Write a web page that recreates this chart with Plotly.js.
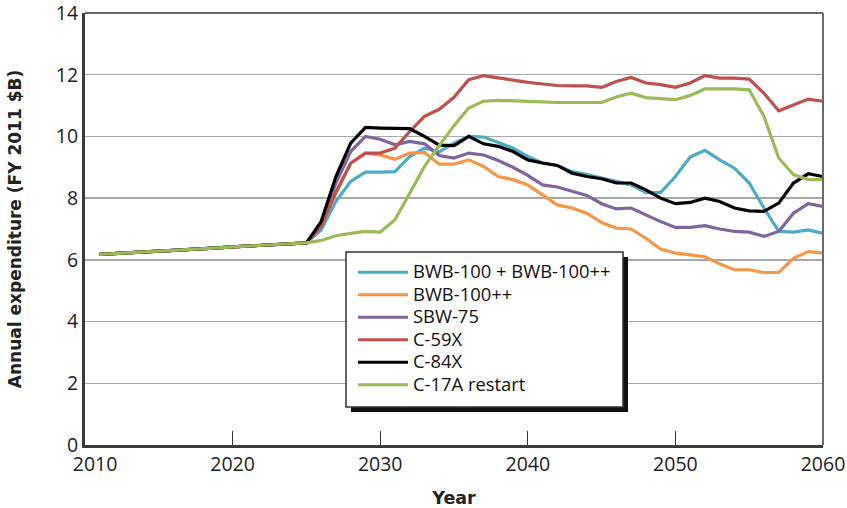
<!DOCTYPE html>
<html>
<head>
<meta charset="utf-8">
<script src="https://cdn.plot.ly/plotly-3.0.1.min.js"></script>
<style>html,body{margin:0;padding:0;background:#fff;}#chart{width:847px;height:508px;}</style>
</head>
<body>
<div id="chart"></div>
<script>
const years = [2011,2012,2013,2014,2015,2016,2017,2018,2019,2020,2021,2022,2023,2024,2025,
  2026,2027,2028,2029,2030,2031,2032,2033,2034,2035,2036,2037,2038,2039,2040,
  2041,2042,2043,2044,2045,2046,2047,2048,2049,2050,2051,2052,2053,2054,2055,
  2056,2057,2058,2059,2060];

const bwb100Both = [6.18,6.2,6.22,6.25,6.28,6.31,6.33,6.36,6.39,6.42,6.45,6.48,6.5,6.52,6.55,
  6.97,7.9,8.54,8.84,8.84,8.86,9.35,9.62,9.5,9.78,10.0,9.98,9.8,9.62,9.35,
  9.14,9.06,8.86,8.76,8.65,8.54,8.43,8.18,8.18,8.7,9.33,9.55,9.24,8.97,8.49,
  7.68,6.92,6.9,6.97,6.86];

const bwb100pp = [6.18,6.2,6.22,6.25,6.28,6.31,6.33,6.36,6.39,6.42,6.45,6.48,6.5,6.52,6.55,
  7.08,8.16,9.13,9.46,9.4,9.26,9.46,9.48,9.1,9.1,9.24,9.03,8.7,8.6,8.43,
  8.1,7.78,7.68,7.51,7.21,7.03,7.0,6.7,6.35,6.22,6.16,6.1,5.87,5.68,5.68,
  5.59,5.59,6.05,6.27,6.22];

const sbw75 = [6.18,6.2,6.22,6.25,6.28,6.31,6.33,6.36,6.39,6.42,6.45,6.48,6.5,6.52,6.55,
  7.1,8.5,9.51,10.0,9.91,9.73,9.84,9.76,9.38,9.3,9.46,9.4,9.22,9.0,8.74,
  8.43,8.36,8.22,8.09,7.82,7.65,7.68,7.46,7.24,7.05,7.05,7.11,7.0,6.92,6.9,
  6.76,6.92,7.51,7.82,7.73];

const c59x = [6.18,6.2,6.22,6.25,6.28,6.31,6.33,6.36,6.39,6.42,6.45,6.48,6.5,6.52,6.55,
  7.08,8.2,9.13,9.46,9.46,9.62,10.16,10.65,10.88,11.27,11.84,11.97,11.9,11.82,11.75,
  11.7,11.65,11.64,11.64,11.59,11.78,11.91,11.73,11.68,11.59,11.73,11.97,11.89,11.89,11.86,
  11.4,10.83,11.03,11.21,11.14];

const c84x = [6.18,6.2,6.22,6.25,6.28,6.31,6.33,6.36,6.39,6.42,6.45,6.48,6.5,6.52,6.55,
  7.24,8.7,9.78,10.29,10.27,10.25,10.25,10.0,9.72,9.7,10.0,9.76,9.68,9.51,9.24,
  9.14,9.06,8.81,8.7,8.63,8.49,8.49,8.27,8.0,7.82,7.86,8.0,7.89,7.68,7.59,
  7.57,7.84,8.49,8.79,8.7];

const c17a = [6.18,6.2,6.22,6.25,6.28,6.31,6.33,6.36,6.39,6.42,6.45,6.48,6.5,6.52,6.55,
  6.63,6.78,6.86,6.92,6.9,7.3,8.16,9.03,9.7,10.35,10.92,11.14,11.17,11.16,11.14,
  11.12,11.1,11.1,11.1,11.1,11.28,11.4,11.26,11.23,11.19,11.33,11.54,11.54,11.54,11.51,
  10.65,9.3,8.76,8.6,8.6];

const seriesNames = ["BWB-100 + BWB-100++","BWB-100++","SBW-75","C-59X","C-84X","C-17A restart"];
const seriesValues = [bwb100Both, bwb100pp, sbw75, c59x, c84x, c17a];
const seriesColors = ["#4bacc6","#f79646","#8064a2","#c0504d","#000000","#9bbb59"];

const xTickVals = [2010,2020,2030,2040,2050,2060];
const xTickText = ["\u00a0\u00a0\u00a0\u00a02010","2020","2030","2040","2050","2060"];
const yTickVals = [0,2,4,6,8,10,12,14];

const FONT = "'Open Sans', 'Noto Sans', sans-serif";
const TFONT = "'DejaVu Sans', 'Open Sans', sans-serif";

const traces = seriesNames.map((name, i) => ({
  type: "scatter",
  mode: "lines",
  name: '<span style="font-size:18.4px">' + name + '</span>',
  x: years,
  y: seriesValues[i],
  line: {color: seriesColors[i], width: 3.2},
  hoverinfo: "x+y"
}));

// plot area: x 85..823, y 13..445 px
const px = v => (v - 85) / 738;
const py = v => (445 - v) / 432;

const layout = {
  width: 847,
  height: 508,
  margin: {l: 85, r: 24, t: 13, b: 63},
  paper_bgcolor: "#ffffff",
  plot_bgcolor: "#ffffff",
  font: {family: FONT, color: "#222222", size: 17},
  showlegend: true,
  legend: {
    x: px(353), y: py(256), xanchor: "left", yanchor: "top",
    bgcolor: "rgba(0,0,0,0)",
    borderwidth: 0,
    itemwidth: 50,
    font: {family: FONT, size: 15, color: "#111111"},
    tracegroupgap: 0
  },
  xaxis: {
    range: [2010, 2060],
    tickvals: xTickVals,
    ticktext: xTickText,
    ticks: "inside",
    ticklen: 14,
    tickwidth: 1,
    tickcolor: "#333333",
    showgrid: false,
    zeroline: false,
    showline: true,
    linewidth: 3,
    linecolor: "#3a3a3a",
    ticklabeloverflow: "allow",
    tickfont: {family: FONT, size: 19.5, color: "#222222"},
    title: {text: "<b>Year</b>", font: {family: TFONT, size: 17.5, color: "#222222"}, standoff: 17},
    fixedrange: true
  },
  yaxis: {
    range: [0, 14],
    tickvals: yTickVals,
    ticks: "",
    showgrid: true,
    gridcolor: "#a8a8a8",
    gridwidth: 1.5,
    zeroline: false,
    showline: true,
    linewidth: 3,
    linecolor: "#3a3a3a",
    ticklabeloverflow: "allow",
    tickfont: {family: FONT, size: 19.5, color: "#222222"},
    title: {text: "<b>Annual expenditure (FY 2011 $B)</b>", font: {family: TFONT, size: 17, color: "#222222"}, standoff: 30},
    fixedrange: true
  },
  shapes: [
    {type: "line", xref: "paper", yref: "paper", x0: 0, x1: 1, y0: 1, y1: 1,
     line: {color: "#6b6b6b", width: 2}, layer: "above"},
    {type: "line", xref: "paper", yref: "paper", x0: 1, x1: 1, y0: 0, y1: 1,
     line: {color: "#6b6b6b", width: 2}, layer: "above"},
    {type: "rect", xref: "paper", yref: "paper", x0: px(351), x1: px(628), y0: py(412), y1: py(257),
     fillcolor: "#111111", line: {width: 0}, layer: "above"},
    {type: "rect", xref: "paper", yref: "paper", x0: px(346), x1: px(623), y0: py(407), y1: py(252),
     fillcolor: "#ffffff", line: {color: "#333333", width: 1.5}, layer: "above"}
  ]
};

Plotly.newPlot("chart", traces, layout, {displayModeBar: false, staticPlot: true});
</script>
</body>
</html>
